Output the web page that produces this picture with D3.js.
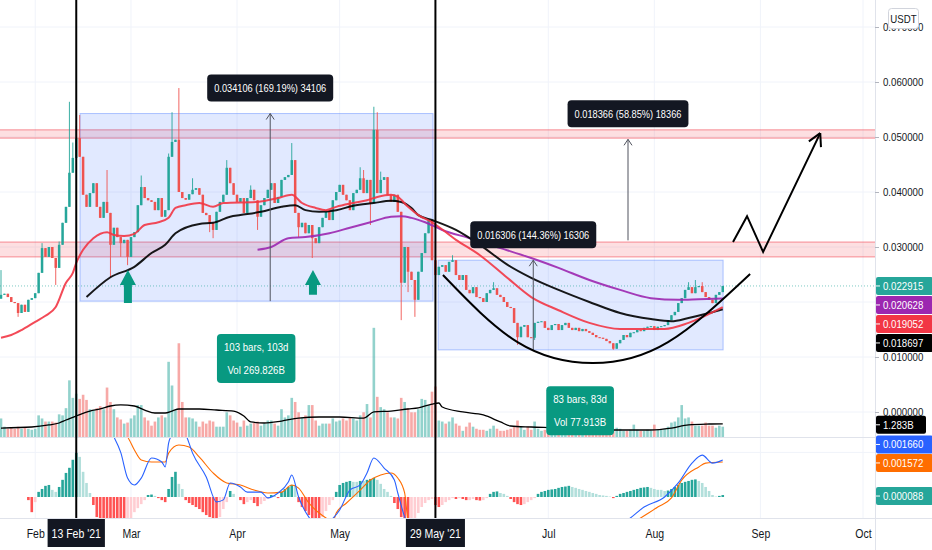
<!DOCTYPE html>
<html>
<head>
<meta charset="utf-8">
<script src="https://cdn.jsdelivr.net/npm/d3@7"></script>
<style>
  body { margin: 0; background: #fff; }
  svg { display: block; font-family: "Liberation Sans Narrow", "Arial Narrow", "Liberation Sans", sans-serif; }
</style>
</head>
<body>
<svg id="chart" width="932" height="550"></svg>
<script>
// one candle per day, first candle is 22 Jan 2021
const startDate = Date.UTC(2021, 0, 22);
const dayDate = i => new Date(startDate + i * 86400000);

// daily closes (USDT), open = previous close
const firstOpen = 0.0206;
const closes = [
  0.0213, 0.0215, 0.0209, 0.0200, 0.0198, 0.0180, 0.0195, 0.0182, 0.0204, 0.0207,
  0.0216, 0.0253, 0.0298, 0.0282, 0.0300, 0.0280, 0.0262, 0.0304, 0.0344, 0.0373,
  0.0435, 0.0462, 0.0498, 0.0464, 0.0395, 0.0373, 0.0398, 0.0416, 0.0373, 0.0353,
  0.0382, 0.0362, 0.0304, 0.0335, 0.0318, 0.0307, 0.0313, 0.0282, 0.0318, 0.0327,
  0.0376, 0.0409, 0.0389, 0.0385, 0.0382, 0.0367, 0.0389, 0.0355, 0.0367, 0.0464,
  0.0491, 0.0495, 0.0400, 0.0389, 0.0386, 0.0396, 0.0404, 0.0407, 0.0395, 0.0362,
  0.0358, 0.0344, 0.0331, 0.0364, 0.0382, 0.0395, 0.0444, 0.0416, 0.0395, 0.0382,
  0.0389, 0.0362, 0.0389, 0.0404, 0.0385, 0.0355, 0.0376, 0.0389, 0.0404, 0.0416,
  0.0380, 0.0391, 0.0422, 0.0427, 0.0431, 0.0458, 0.0362, 0.0336, 0.0344, 0.0325,
  0.0340, 0.0316, 0.0307, 0.0336, 0.0353, 0.0367, 0.0349, 0.0385, 0.0400, 0.0413,
  0.0395, 0.0385, 0.0367, 0.0398, 0.0404, 0.0425, 0.0398, 0.0422, 0.0380, 0.0513,
  0.0398, 0.0422, 0.0427, 0.0395, 0.0382, 0.0395, 0.0364, 0.0235, 0.0300, 0.0255,
  0.0240, 0.0204, 0.0255, 0.0289, 0.0325, 0.0349, 0.0276, 0.0249, 0.0264, 0.0267,
  0.0255, 0.0273, 0.0276, 0.0249, 0.0240, 0.0249, 0.0222, 0.0216, 0.0227, 0.0209,
  0.0207, 0.0200, 0.0216, 0.0222, 0.0225, 0.0213, 0.0209, 0.0200, 0.0191, 0.0189,
  0.0162, 0.0136, 0.0155, 0.0158, 0.0136, 0.0135, 0.0162, 0.0164, 0.0165, 0.0153,
  0.0149, 0.0158, 0.0160, 0.0149, 0.0158, 0.0162, 0.0153, 0.0149, 0.0153, 0.0147,
  0.0151, 0.0147, 0.0144, 0.0140, 0.0136, 0.0135, 0.0133, 0.0129, 0.0125, 0.0115,
  0.0125, 0.0131, 0.0140, 0.0136, 0.0144, 0.0145, 0.0149, 0.0147, 0.0153, 0.0155,
  0.0156, 0.0149, 0.0155, 0.0156, 0.0158, 0.0167, 0.0176, 0.0182, 0.0198, 0.0207,
  0.0222, 0.0227, 0.0216, 0.0227, 0.0229, 0.0218, 0.0209, 0.0204, 0.0198, 0.0213, 0.0218, 0.022915
];

// wicks that reach beyond the body (candle index -> price)
const highs = {0: 0.0258, 12: 0.0307, 17: 0.0310, 20: 0.0564, 21: 0.0490, 22: 0.0520, 23: 0.0540,
  31: 0.0440, 41: 0.0430, 49: 0.0470, 50: 0.0545, 52: 0.0589, 56: 0.0425, 66: 0.0458, 73: 0.0412,
  85: 0.0489, 105: 0.0445, 106: 0.0440, 109: 0.0555, 110: 0.0545, 111: 0.0437, 132: 0.0285,
  144: 0.0236, 201: 0.0236, 203: 0.0240, 205: 0.0236};
const lows = {5: 0.0173, 16: 0.0231, 32: 0.0245, 35: 0.0282, 37: 0.0267, 61: 0.0327, 62: 0.0316,
  75: 0.0331, 87: 0.0318, 91: 0.0280, 108: 0.0340, 117: 0.0167, 119: 0.0218, 121: 0.0173,
  151: 0.0122, 156: 0.0131, 179: 0.0113};

// daily volume, billions
const volumes = [
  1.8, 1.0, 0.8, 0.9, 0.8, 1.0, 0.8, 0.9, 0.8, 0.7,
  0.8, 2.1, 1.8, 1.5, 1.5, 1.5, 1.4, 2.2, 2.1, 2.8,
  5.5, 3.8, 4.2, 3.7, 4.1, 3.6, 2.7, 2.6, 2.8, 3.0,
  2.7, 4.8, 3.4, 2.7, 1.9, 1.7, 1.3, 1.4, 1.8, 2.1,
  3.1, 3.1, 1.9, 1.6, 1.1, 1.5, 1.9, 2.1, 1.9, 7.3,
  5.0, 2.6, 9.1, 3.4, 1.9, 1.9, 1.8, 1.5, 1.0, 1.5,
  1.3, 1.6, 1.5, 1.0, 1.0, 1.0, 2.4, 2.1, 1.6, 1.4,
  1.0, 1.6, 1.1, 1.3, 1.4, 1.5, 1.1, 1.3, 1.6, 1.6,
  1.3, 1.1, 2.7, 1.9, 2.1, 3.8, 3.4, 2.4, 1.9, 2.1,
  3.1, 3.1, 1.6, 1.1, 1.3, 1.3, 1.3, 1.8, 1.5, 1.6,
  1.8, 1.6, 1.9, 1.8, 1.6, 2.1, 2.4, 3.2, 1.9, 10.6,
  3.9, 2.9, 2.7, 2.4, 1.9, 1.9, 1.8, 3.8, 3.4, 2.8,
  2.4, 2.4, 2.7, 3.7, 3.6, 3.1, 4.4, 4.9, 1.6, 1.5,
  1.3, 1.5, 1.9, 1.3, 1.1, 0.6, 1.0, 1.4, 1.0, 0.8,
  0.7, 0.7, 0.6, 0.8, 1.1, 0.8, 0.6, 0.6, 0.7, 0.8,
  1.0, 1.6, 1.0, 0.7, 1.0, 0.7, 1.5, 0.8, 0.6, 0.7,
  0.6, 0.8, 0.7, 0.7, 0.6, 0.8, 0.7, 0.6, 0.7, 0.6,
  0.7, 0.6, 0.7, 0.6, 0.6, 0.7, 0.6, 0.6, 0.7, 0.8,
  0.9, 0.8, 0.6, 0.6, 0.7, 1.2, 0.7, 0.6, 0.6, 0.7,
  0.6, 1.2, 0.7, 0.7, 0.8, 1.0, 1.4, 1.5, 1.9, 3.1,
  1.8, 1.9, 1.5, 1.1, 1.1, 1.1, 1.4, 1.1, 1.1, 0.9, 1.1, 1.0
];

// volume moving average [candle index, billions]
const volumeMA = [[0, 0.87], [9, 0.97], [14, 1.17], [17, 1.36], [19, 1.65], [22, 2.04], [26, 2.52],
  [29, 2.72], [32, 3.01], [35, 3.11], [39, 3.01], [42, 2.62], [45, 2.33], [48, 2.33], [50, 2.52],
  [52, 2.72], [58, 2.72], [63, 2.62], [68, 2.52], [71, 2.04], [73, 1.46], [77, 1.36], [82, 1.55],
  [87, 1.84], [93, 1.94], [99, 1.94], [106, 1.84], [109, 2.43], [114, 2.52], [119, 2.72], [122, 2.82],
  [126, 3.20], [128, 3.30], [129, 2.91], [135, 2.43], [141, 2.14], [146, 1.46], [149, 1.07],
  [155, 0.97], [163, 0.87], [172, 0.68], [181, 0.68], [190, 0.68], [196, 0.87], [201, 1.17],
  [207, 1.26], [211, 1.283]];

// moving averages on price [candle index, USDT]
const maRed = [[0, 0.0135], [3, 0.0140], [6, 0.0149], [10, 0.0164], [13, 0.0175], [16, 0.0191],
  [19, 0.0235], [21, 0.0253], [22, 0.0271], [24, 0.0295], [27, 0.0316], [31, 0.0327], [33, 0.0322],
  [36, 0.0320], [39, 0.0324], [42, 0.0340], [46, 0.0345], [49, 0.0353], [51, 0.0371], [54, 0.0376],
  [58, 0.0380], [62, 0.0373], [65, 0.0380], [75, 0.0382], [81, 0.0389], [85, 0.0395], [88, 0.0380],
  [92, 0.0371], [95, 0.0367], [98, 0.0373], [103, 0.0380], [107, 0.0385], [110, 0.0391], [114, 0.0395],
  [116, 0.0391], [119, 0.0373], [122, 0.0358], [126, 0.0345], [133, 0.0313], [140, 0.0285],
  [148, 0.0244], [155, 0.0209], [163, 0.0185], [172, 0.0162], [181, 0.0151], [194, 0.0151],
  [201, 0.0162], [211, 0.019052]];
const maBlack = [[25, 0.0209], [32, 0.0245], [39, 0.0264], [44, 0.0289], [48, 0.0304], [51, 0.0325],
  [58, 0.0342], [62, 0.0344], [67, 0.0355], [70, 0.0358], [76, 0.0364], [82, 0.0373], [86, 0.0376],
  [89, 0.0367], [93, 0.0364], [98, 0.0367], [103, 0.0375], [109, 0.0380], [114, 0.0384], [117, 0.0382],
  [120, 0.0371], [122, 0.0358], [126, 0.0349], [133, 0.0331], [140, 0.0304], [148, 0.0268],
  [155, 0.0244], [163, 0.0222], [172, 0.0200], [181, 0.0180], [190, 0.0169], [196, 0.0165],
  [201, 0.0171], [207, 0.0180], [211, 0.018697]];
const maPurple = [[75, 0.0295], [79, 0.0300], [84, 0.0316], [89, 0.0318], [96, 0.0325], [102, 0.0335],
  [108, 0.0345], [114, 0.0355], [117, 0.0356], [120, 0.0353], [124, 0.0345], [129, 0.0331],
  [137, 0.0316], [146, 0.0298], [155, 0.0280], [163, 0.0262], [172, 0.0240], [181, 0.0222],
  [190, 0.0207], [198, 0.0204], [204, 0.0205], [211, 0.020628]];

// MACD, in units of 0.00001 USDT [candle index, value]
const macdLine = [[0, 340], [15, 420], [28, 360], [33, 270], [35, 200], [37, 85], [39, 54], [41, 85],
  [44, 175], [47, 157], [48, 135], [49, 242], [50, 280], [52, 310], [54, 280], [56, 197], [60, 90],
  [63, -22], [65, -13], [67, 63], [70, 45], [72, 22], [76, 22], [78, -4], [81, 18], [84, 67], [85, 99],
  [87, 0], [90, -90], [93, -130], [96, -110], [99, -58], [102, 31], [105, 54], [107, 108], [109, 175],
  [112, 130], [115, 76], [116, 18], [118, -90], [120, -160], [130, -300], [150, -360], [170, -260],
  [180, -140], [184, -94], [188, -45], [194, 0], [198, 63], [202, 152], [205, 188], [208, 152], [211, 166]];
const signalLine = [[0, 300], [20, 380], [30, 340], [37, 269], [39, 211], [41, 166], [44, 157], [48, 157],
  [49, 197], [52, 233], [55, 224], [58, 179], [62, 108], [66, 63], [70, 54], [74, 31], [78, 18], [82, 22],
  [85, 54], [87, 40], [90, -27], [93, -72], [95, -94], [97, -110], [98, -72], [101, -27], [105, 31],
  [108, 76], [111, 99], [114, 108], [116, 85], [118, 18], [119, -103], [122, -180], [135, -300],
  [155, -330], [175, -220], [187, -94], [192, -45], [196, -4], [199, 76], [204, 135], [206, 152], [211, 157.2]];
const macdHist = [
  0, 0, 0, 0, 0, 0, 0, 0, -14, -68,
  -23, 23, 36, 50, 54, 32, 23, 45, 77, 108,
  131, 167, 198, 180, 113, 63, 18, -36, -90, -108,
  -122, -131, -140, -149, -153, -158, -162, -135, -95, -68,
  -50, -32, -14, 9, 11, 5, -5, -14, -23, 36,
  90, 113, 59, 36, -14, -27, -36, -45, -54, -68,
  -81, -90, -99, -104, -90, -54, -23, 27, 14, 0,
  -14, -32, -23, -14, -27, -41, -32, -18, -9, 9,
  5, -5, 23, 36, 45, 54, 50, -23, -45, -63,
  -81, -95, -108, -117, -90, -63, -36, -14, 23, 54,
  63, 68, 72, 68, 68, 72, 72, 77, 81, 86,
  77, 59, 36, 23, 5, -27, -54, -90, -117, -135,
  -126, -99, -72, -45, -27, -14, -9, -36, -45, -36,
  -23, -14, -5, -9, -5, -9, -14, -14, -9, -14,
  -16, -14, -5, 14, 23, 25, 18, 14, 5, -9,
  -23, -32, -36, -32, -23, -14, -5, 14, 23, 27,
  32, 34, 36, 41, 45, 47, 50, 45, 41, 36,
  32, 27, 23, 18, 14, 9, 7, 5, 2, -5,
  5, 14, 18, 23, 27, 32, 36, 41, 43, 45,
  41, 36, 32, 32, 27, 29, 36, 45, 54, 63,
  68, 72, 77, 79, 72, 63, 45, 27, 9, 2, 5, 8.8
];

// axis ticks
const priceTicks = [0, 0.01, 0.03, 0.04, 0.05, 0.06, 0.07];
const gridPrices = [0, 0.01, 0.02, 0.03, 0.04, 0.05, 0.06, 0.07];
const monthTicks = [10, 38, 69, 99, 160, 191, 222, 252]; // Feb Mar Apr May Jul Aug Sep Oct
const markedDays = [[22, "13 Feb '21"], [127, "29 May '21"]];

// drawings on the chart
const zones = [[0.0498, 0.0513], [0.0282, 0.0309]];
const rangeBoxes = [[23.1, 126.3, 0.020159, 0.054265], [127.8, 211.1, 0.011295, 0.027601]];
const measures = [[78.7, 0.020159, 0.054265, "0.034106 (169.19%) 34106"],
  [155.6, 0.011295, 0.027601, "0.016306 (144.36%) 16306"],
  [183.3, 0.031208, 0.049574, "0.018366 (58.85%) 18366"]];
const rangeLabels = [[74.6, 0.0142, "103 bars, 103d", "Vol 269.826B"],
  [169.3, 0.0047, "83 bars, 83d", "Vol 77.913B"]];
const upArrows = [[37.1, 0.0258, 0.0198], [91.2, 0.0258, 0.0213]];
const cupCurve = [[129.2, 0.0249], [151, 0.0127], [173, 0.0089], [195, 0.0127], [219, 0.0251]];
const zigzag = [[214, 0.0309], [218.1, 0.0356], [222.8, 0.0291], [239.5, 0.0507]];

// squeeze text horizontally, the chart uses a condensed face
const NARROW = 0.84;
function squeeze(sel) {
  sel.each(function() {
    const len = this.getComputedTextLength();
    d3.select(this).attr("textLength", len * NARROW).attr("lengthAdjust", "spacingAndGlyphs");
  });
  return sel;
}
const textWidth = sel => +sel.attr("textLength");

class TradingChart {
  constructor(_config) {
    this.config = {
      parentElement: _config.parentElement,
      axisX: 875,
      priceBottom: 437,
      macdBottom: 518
    };
    this.initVis();
  }

  initVis() {
    let vis = this;
    vis.svg = d3.select(vis.config.parentElement);

    vis.xScale = d3.scaleUtc().domain([dayDate(0), dayDate(252)]).range([1, 863]);
    vis.xDay = i => vis.xScale(dayDate(i));
    vis.yScale = d3.scaleLinear().domain([0.01, 0.07]).range([357, 27]);
    vis.volScale = d3.scaleLinear().domain([0, 10]).range([vis.config.priceBottom, 334]);
    vis.macdScale = d3.scaleLinear().domain([0, 166]).range([497, 460]);

    vis.candles = closes.map((c, i) => {
      const o = i === 0 ? firstOpen : closes[i - 1];
      return {
        i, o, c, v: volumes[i],
        h: Math.max(o, c, highs[i] || 0),
        l: Math.min(o, c, lows[i] || 1)
      };
    });

    const defs = vis.svg.append("defs");
    defs.append("clipPath").attr("id", "clipPrice").append("rect")
      .attr("x", 0).attr("y", 0).attr("width", vis.config.axisX).attr("height", vis.config.priceBottom);
    defs.append("clipPath").attr("id", "clipMacd").append("rect")
      .attr("x", 0).attr("y", vis.config.priceBottom).attr("width", vis.config.axisX)
      .attr("height", vis.config.macdBottom - vis.config.priceBottom);

    vis.render();
  }

  render() {
    let vis = this;
    const ax = vis.config.axisX;

    // grid
    const grid = vis.svg.append("g");
    grid.selectAll("line.h").data(gridPrices).join("line").attr("class", "h")
      .attr("x1", 0).attr("x2", ax).attr("y1", d => vis.yScale(d)).attr("y2", d => vis.yScale(d))
      .attr("stroke", "#f0f3fa");
    grid.append("line").attr("x1", 0).attr("x2", ax)
      .attr("y1", vis.macdScale(200)).attr("y2", vis.macdScale(200)).attr("stroke", "#f0f3fa");
    grid.selectAll("line.v").data(monthTicks).join("line").attr("class", "v")
      .attr("x1", d => vis.xDay(d)).attr("x2", d => vis.xDay(d))
      .attr("y1", 0).attr("y2", vis.config.macdBottom).attr("stroke", "#f0f3fa");

    const pane = vis.svg.append("g").attr("clip-path", "url(#clipPrice)");

    // support / resistance zones and range boxes
    pane.selectAll("rect.zone").data(zones).join("rect").attr("class", "zone")
      .attr("x", -2).attr("width", ax + 4)
      .attr("y", d => vis.yScale(d[1])).attr("height", d => vis.yScale(d[0]) - vis.yScale(d[1]))
      .attr("fill", "rgba(242,54,69,0.16)").attr("stroke", "rgba(242,54,69,0.55)");
    pane.selectAll("rect.box").data(rangeBoxes).join("rect").attr("class", "box")
      .attr("x", d => vis.xDay(d[0])).attr("width", d => vis.xDay(d[1]) - vis.xDay(d[0]))
      .attr("y", d => vis.yScale(d[3])).attr("height", d => vis.yScale(d[2]) - vis.yScale(d[3]))
      .attr("fill", "rgba(41,98,255,0.14)").attr("stroke", "rgba(41,98,255,0.35)");

    // volume
    pane.selectAll("rect.vol").data(vis.candles).join("rect").attr("class", "vol")
      .attr("x", d => vis.xDay(d.i) - 1.3).attr("width", 2.6)
      .attr("y", d => vis.volScale(d.v)).attr("height", d => vis.volScale(0) - vis.volScale(d.v))
      .attr("fill", d => d.c >= d.o ? "rgba(38,166,154,0.5)" : "rgba(239,83,80,0.5)");
    pane.append("path").datum(volumeMA)
      .attr("d", d3.line().x(d => vis.xDay(d[0])).y(d => vis.volScale(d[1])).curve(d3.curveMonotoneX))
      .attr("fill", "none").attr("stroke", "#000").attr("stroke-width", 1.3);

    // last price line
    pane.append("line").attr("x1", 0).attr("x2", ax)
      .attr("y1", vis.yScale(closes[closes.length - 1])).attr("y2", vis.yScale(closes[closes.length - 1]))
      .attr("stroke", "#26a69a").attr("stroke-opacity", 0.6).attr("stroke-dasharray", "1,2");

    // candles
    const cg = pane.selectAll("g.candle").data(vis.candles).join("g").attr("class", "candle")
      .attr("fill", d => d.c >= d.o ? "#26a69a" : "#ef5350")
      .attr("stroke", d => d.c >= d.o ? "#26a69a" : "#ef5350");
    cg.append("line")
      .attr("x1", d => vis.xDay(d.i)).attr("x2", d => vis.xDay(d.i))
      .attr("y1", d => vis.yScale(d.h)).attr("y2", d => vis.yScale(d.l)).attr("stroke-width", 0.9);
    cg.append("rect").attr("stroke", "none")
      .attr("x", d => vis.xDay(d.i) - 1.25).attr("width", 2.5)
      .attr("y", d => vis.yScale(Math.max(d.o, d.c)))
      .attr("height", d => Math.max(1, Math.abs(vis.yScale(d.o) - vis.yScale(d.c))));

    // moving averages
    const maLine = d3.line().x(d => vis.xDay(d[0])).y(d => vis.yScale(d[1])).curve(d3.curveMonotoneX);
    [[maPurple, "#9c27b0"], [maBlack, "#000000"], [maRed, "#f23645"]].forEach(([data, col]) => {
      pane.append("path").datum(data).attr("d", maLine)
        .attr("fill", "none").attr("stroke", col).attr("stroke-width", 2).attr("stroke-opacity", 0.9);
    });

    // measurement arrows
    measures.forEach(([at, from, to]) => {
      const mx = vis.xDay(at), top = vis.yScale(to);
      pane.append("line").attr("x1", mx).attr("x2", mx).attr("y1", vis.yScale(from)).attr("y2", top)
        .attr("stroke", "#50535e").attr("stroke-width", 1);
      pane.append("path").attr("d", `M${mx - 4},${top + 6}L${mx},${top}L${mx + 4},${top + 6}`)
        .attr("fill", "none").attr("stroke", "#50535e");
    });

    // cup and zigzag drawings
    pane.append("path").datum(cupCurve)
      .attr("d", d3.line().x(d => vis.xDay(d[0])).y(d => vis.yScale(d[1])).curve(d3.curveNatural))
      .attr("fill", "none").attr("stroke", "#000").attr("stroke-width", 2);
    pane.append("path").datum(zigzag)
      .attr("d", d3.line().x(d => vis.xDay(d[0])).y(d => vis.yScale(d[1])))
      .attr("fill", "none").attr("stroke", "#000").attr("stroke-width", 2);
    const p1 = zigzag[zigzag.length - 2], p2 = zigzag[zigzag.length - 1];
    const tx = vis.xDay(p2[0]), ty = vis.yScale(p2[1]);
    const ang = Math.atan2(ty - vis.yScale(p1[1]), tx - vis.xDay(p1[0]));
    const head = [ang + Math.PI - 0.5, ang + Math.PI + 0.5]
      .map(a => `M${tx},${ty}L${tx + 14 * Math.cos(a)},${ty + 14 * Math.sin(a)}`).join("");
    pane.append("path").attr("d", head).attr("fill", "none").attr("stroke", "#000").attr("stroke-width", 2);

    // green up arrows
    upArrows.forEach(([at, tip, base]) => {
      const cx = vis.xDay(at), t = vis.yScale(tip), b = vis.yScale(base);
      pane.append("path")
        .attr("d", `M${cx},${t}L${cx + 8},${t + 15}L${cx + 4},${t + 15}L${cx + 4},${b}L${cx - 4},${b}L${cx - 4},${t + 15}L${cx - 8},${t + 15}Z`)
        .attr("fill", "#089981");
    });

    // measurement labels
    measures.forEach(([at, from, to, text]) => {
      const cx = vis.xDay(at), bottom = vis.yScale(to) - 12;
      const g = pane.append("g");
      const t = squeeze(g.append("text").attr("x", cx).attr("y", bottom - 9.5).attr("text-anchor", "middle")
        .attr("fill", "#fff").attr("font-size", 11).text(text));
      const w = textWidth(t) + 14;
      g.insert("rect", "text").attr("x", cx - w / 2).attr("y", bottom - 27).attr("width", w)
        .attr("height", 27).attr("rx", 4).attr("fill", "#131722");
    });

    // bar count labels
    rangeLabels.forEach(([at, top, l1, l2]) => {
      const cx = vis.xDay(at), y0 = vis.yScale(top);
      const g = pane.append("g");
      const t1 = squeeze(g.append("text").attr("x", cx).attr("y", y0 + 17).attr("text-anchor", "middle")
        .attr("fill", "#fff").attr("font-size", 11.5).text(l1));
      const t2 = squeeze(g.append("text").attr("x", cx).attr("y", y0 + 40).attr("text-anchor", "middle")
        .attr("fill", "#fff").attr("font-size", 11.5).text(l2));
      const w = Math.max(textWidth(t1), textWidth(t2)) + 14;
      g.insert("rect", "text").attr("x", cx - w / 2).attr("y", y0).attr("width", w)
        .attr("height", 49).attr("rx", 4).attr("fill", "#089981");
    });

    // MACD pane
    const mp = vis.svg.append("g").attr("clip-path", "url(#clipMacd)");
    mp.selectAll("rect").data(macdHist).join("rect")
      .attr("x", (d, i) => vis.xDay(i) - 1.3).attr("width", 2.6)
      .attr("y", d => vis.macdScale(Math.max(0, d)))
      .attr("height", d => Math.abs(vis.macdScale(d) - vis.macdScale(0)))
      .attr("fill", (d, i) => {
        const prev = i > 0 ? macdHist[i - 1] : 0;
        if (d >= 0) return d > prev ? "#26a69a" : "#b2dfdb";
        return d < prev ? "#ff5252" : "#ffcdd2";
      });
    const macdPath = d3.line().x(d => vis.xDay(d[0])).y(d => vis.macdScale(d[1])).curve(d3.curveMonotoneX);
    mp.append("path").datum(signalLine).attr("d", macdPath)
      .attr("fill", "none").attr("stroke", "#ff6d00").attr("stroke-width", 1.1);
    mp.append("path").datum(macdLine).attr("d", macdPath)
      .attr("fill", "none").attr("stroke", "#2962ff").attr("stroke-width", 1.1);

    // separators
    vis.svg.append("line").attr("x1", 0).attr("x2", 932)
      .attr("y1", vis.config.priceBottom + 0.5).attr("y2", vis.config.priceBottom + 0.5).attr("stroke", "#e0e3eb");
    vis.svg.append("line").attr("x1", 0).attr("x2", 932)
      .attr("y1", vis.config.macdBottom + 0.5).attr("y2", vis.config.macdBottom + 0.5).attr("stroke", "#e0e3eb");
    vis.svg.append("line").attr("x1", ax + 0.5).attr("x2", ax + 0.5)
      .attr("y1", 0).attr("y2", 550).attr("stroke", "#e0e3eb");

    // marked day verticals
    vis.svg.selectAll("line.mark").data(markedDays).join("line").attr("class", "mark")
      .attr("x1", d => vis.xDay(d[0])).attr("x2", d => vis.xDay(d[0]))
      .attr("y1", 0).attr("y2", vis.config.macdBottom).attr("stroke", "#000").attr("stroke-width", 2);

    // price axis
    const yAxis = vis.svg.append("g").attr("transform", `translate(${ax},0)`)
      .call(d3.axisRight(vis.yScale).tickValues(priceTicks).tickFormat(d3.format(".6f"))
        .tickSizeInner(4).tickSizeOuter(0).tickPadding(4));
    yAxis.select(".domain").remove();
    yAxis.selectAll(".tick line").attr("stroke", "#b2b5be");
    squeeze(yAxis.selectAll(".tick text").attr("fill", "#131722").attr("font-size", 11.5)
      .attr("font-family", null));

    // time axis
    const xAxis = vis.svg.append("g").attr("transform", `translate(0,${vis.config.macdBottom})`)
      .call(d3.axisBottom(vis.xScale).tickValues(monthTicks.map(dayDate))
        .tickFormat(d3.utcFormat("%b")).tickSize(0).tickPadding(11));
    xAxis.select(".domain").remove();
    squeeze(xAxis.selectAll(".tick text").attr("fill", "#131722").attr("font-size", 12.5).attr("font-family", null));

    markedDays.forEach(([i, text]) => {
      const cx = vis.xDay(i);
      const g = vis.svg.append("g");
      const t = squeeze(g.append("text").attr("x", cx).attr("y", 538).attr("text-anchor", "middle")
        .attr("fill", "#fff").attr("font-size", 12.5).text(text));
      const w = textWidth(t) + 8;
      g.insert("rect", "text").attr("x", cx - w / 2).attr("y", 519).attr("width", w)
        .attr("height", 28).attr("fill", "#131722");
    });

    // last value labels on the right scale
    const priceLabels = [[closes[closes.length - 1], "#26a69a"], [maPurple[maPurple.length - 1][1], "#9c27b0"],
      [maRed[maRed.length - 1][1], "#f23645"], [maBlack[maBlack.length - 1][1], "#000000"]];
    let prevY = -100;
    priceLabels.forEach(([v, col]) => {
      const yy = Math.max(vis.yScale(v), prevY + 19);
      prevY = yy;
      vis.valueLabel(yy, col, d3.format(".6f")(v), 57);
    });
    vis.valueLabel(vis.volScale(volumeMA[volumeMA.length - 1][1]) + 1, "#000000", "1.283B", 50);
    const macdLabels = [[macdHist[macdHist.length - 1], "#26a69a"], [signalLine[signalLine.length - 1][1], "#ff6d00"],
      [macdLine[macdLine.length - 1][1], "#2962ff"]];
    let nextY = 1000;
    macdLabels.forEach(([v, col]) => {
      const yy = Math.min(vis.macdScale(v) + 1, nextY - 18.5);
      nextY = yy;
      vis.valueLabel(yy, col, d3.format(".6f")(v * 1e-5), 57);
    });

    // currency badge
    vis.svg.append("rect").attr("x", 888.5).attr("y", 8.5).attr("width", 30).attr("height", 20)
      .attr("rx", 3).attr("fill", "#fff").attr("stroke", "#d1d4dc");
    squeeze(vis.svg.append("text").attr("x", 903.5).attr("y", 22.5).attr("text-anchor", "middle")
      .attr("font-size", 11.5).attr("fill", "#131722").text("USDT"));
  }

  valueLabel(yy, col, text, w) {
    let vis = this;
    const ax = vis.config.axisX;
    vis.svg.append("rect").attr("x", ax + 1).attr("y", yy - 9).attr("width", w).attr("height", 18)
      .attr("rx", 2).attr("fill", col);
    vis.svg.append("line").attr("x1", ax + 1).attr("x2", ax + 5).attr("y1", yy).attr("y2", yy)
      .attr("stroke", "#fff");
    squeeze(vis.svg.append("text").attr("x", ax + 8).attr("y", yy + 4).attr("fill", "#fff")
      .attr("font-size", 11.5).text(text));
  }
}

new TradingChart({ parentElement: "#chart" });
</script>
</body>
</html>
